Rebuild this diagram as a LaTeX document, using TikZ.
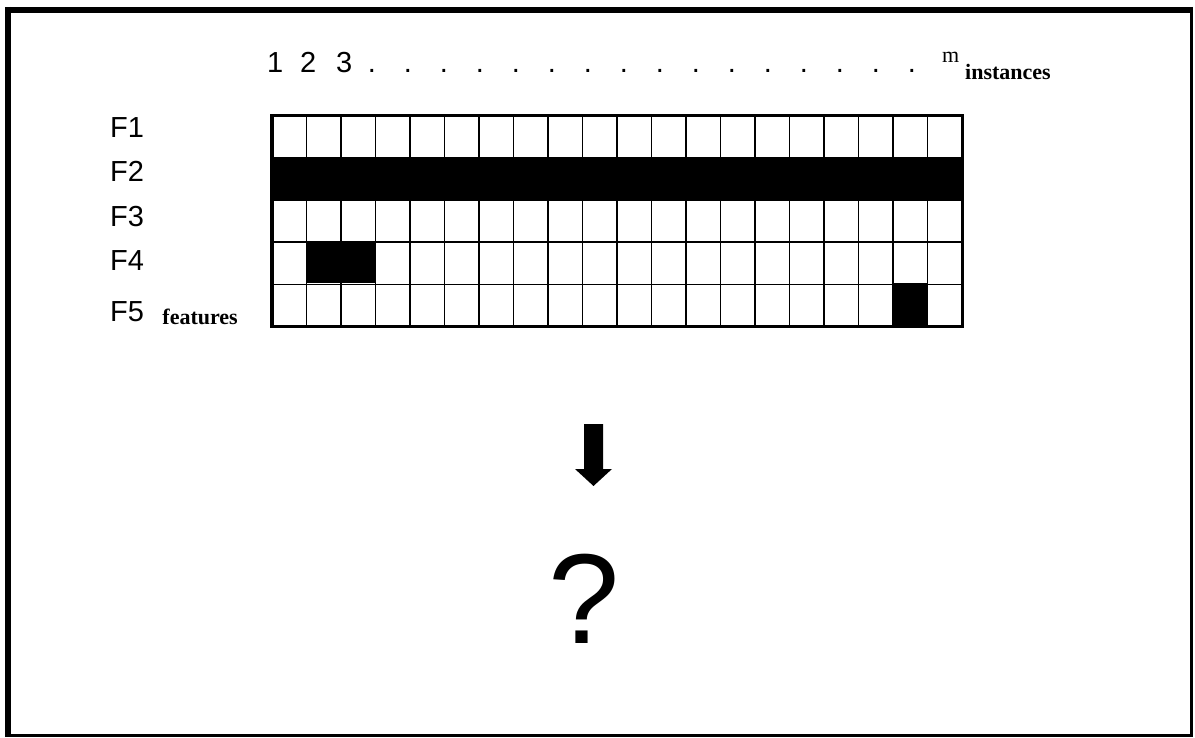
\documentclass[tikz,border=0pt]{standalone}
\usepackage{fontspec}
\setmainfont{Liberation Serif}
\setsansfont{Liberation Sans}
\usetikzlibrary{positioning}

\begin{document}
\begin{tikzpicture}[x=1pt,y=-1pt,
  lbl/.style={font=\sffamily\fontsize{29}{34}\selectfont,inner sep=0pt,anchor=base west},
  sub/.style={font=\bfseries\fontsize{22}{26}\selectfont,inner sep=0pt,anchor=base west},
  cellline/.style={line width=1.4pt},
  outline/.style={line width=3.5pt}]
\useasboundingbox (0,0) rectangle (1195,738);
% frame
\draw[line width=6pt] (5,10)--(1193,10);
\draw[line width=6pt] (8,7)--(8,737);
\draw[line width=3pt] (1191.5,7)--(1191.5,737);
\draw[line width=3pt] (5,735.5)--(1193,735.5);
% instance numbers
\node[lbl] (n1) at (267,73){1};
\node[lbl] (n2) at (300,73){2};
\node[lbl] (n3) at (336,73){3};
\foreach \i in {0,...,15}
  \node[lbl,anchor=base] (dot\i) at (372+\i*36,73){.};
\node[font=\fontsize{22}{26}\selectfont,inner sep=0pt,anchor=base west] (m) at (942,63){m};
\node[sub] (inst) at (965,80){instances};
% features
\node[lbl] (f1) at (110,138){F1};
\node[lbl] (f2) at (110,182){F2};
\node[lbl] (f3) at (110,227){F3};
\node[lbl] (f4) at (110,271){F4};
\node[lbl] (f5) at (110,322){F5};
\node[sub] (feat) at ([xshift=18pt,yshift=-2pt]f5.base east){features};
% black cells
\fill (272,157.7) rectangle (962.5,199.9);
\fill (306.5,241.1) rectangle (375.5,283.3);
\fill (893,283.3) rectangle (927.5,326.5);
% grid
\foreach \c in {1,...,19}
  \draw[cellline] (272+\c*34.5,115.5)--(272+\c*34.5,326.5);
\foreach \r in {1,...,4}
  \draw[cellline] (272,115.5+\r*42.2)--(962.5,115.5+\r*42.2);
\draw[outline] (272,115.5) rectangle (962.5,326.5);
% arrow
\fill (584,424)--(603,424)--(603,469)--(612,469)--(593.5,486)--(575,469)--(584,469)--cycle;
\node[font=\sffamily\fontsize{128}{140}\selectfont,inner sep=0pt,anchor=base] (q) at (584,643){?};
\end{tikzpicture}
\end{document}
